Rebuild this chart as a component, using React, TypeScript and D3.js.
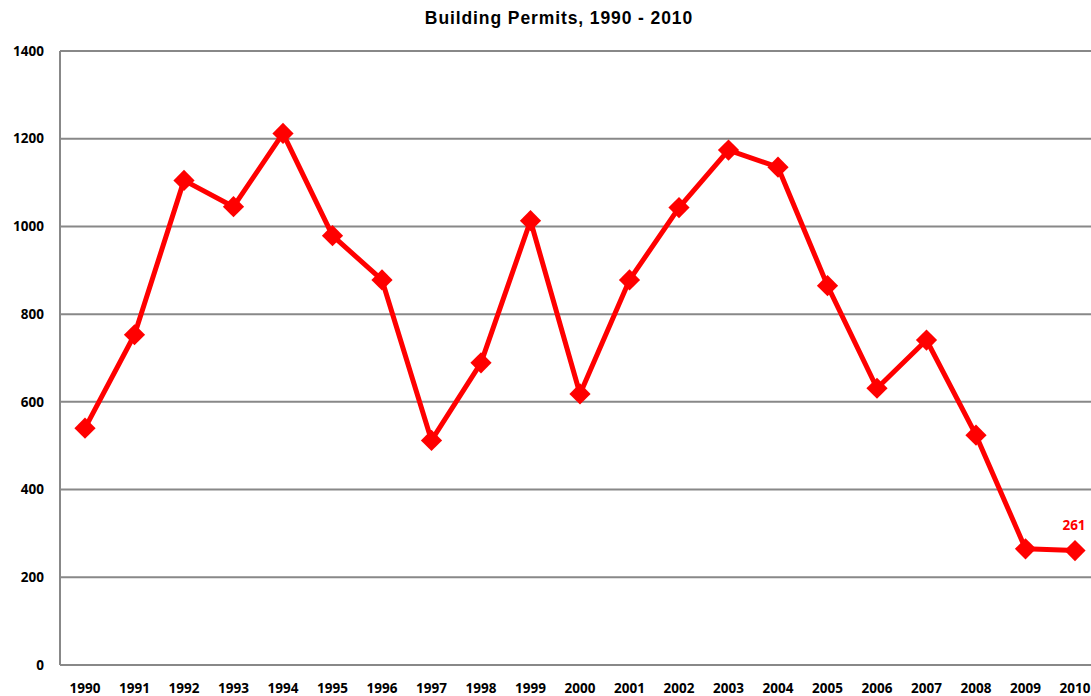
import * as React from 'react';
import * as d3 from 'd3';

const years = ['1990', '1991', '1992', '1993', '1994', '1995', '1996', '1997', '1998', '1999', '2000',
  '2001', '2002', '2003', '2004', '2005', '2006', '2007', '2008', '2009', '2010'];
const permits = [540, 753, 1105, 1045, 1212, 979, 878, 512, 689, 1013, 618,
  878, 1043, 1174, 1135, 865, 631, 741, 524, 265, 261];
const yTicks = [0, 200, 400, 600, 800, 1000, 1200, 1400];

const W = 1091;
const H = 696;
const margin = { top: 51, right: 0, bottom: 31, left: 60 };

const App: React.FC = () => {
  const innerW = W - margin.left - margin.right;
  const innerH = H - margin.top - margin.bottom;

  const x = d3.scalePoint<string>()
    .domain(years)
    .range([25, 1015]);

  const y = d3.scaleLinear()
    .domain([0, 1400])
    .range([innerH, 0]);

  const line = d3.line<number>()
    .x((_, i) => x(years[i])!)
    .y(d => y(d));

  const last = permits.length - 1;
  const tickFont = '"Open Sans", sans-serif';

  return (
    <svg width={W} height={H} style={{ position: 'absolute', left: 0, top: 0, background: 'white' }}>
      <text x={559} y={24} textAnchor="middle" fontFamily='"Liberation Sans", Arial, sans-serif'
        fontWeight="bold" fontSize={17.5} letterSpacing={0.9} fill="#000">Building Permits, 1990 - 2010</text>
      <g transform={`translate(${margin.left},${margin.top})`}>
        {yTicks.map(t => (
          <g key={t}>
            <line x1={0} x2={innerW} y1={y(t)} y2={y(t)} stroke="#888" strokeWidth={2} />
            <text x={-16} y={y(t)} dy="0.35em" textAnchor="end" fontFamily={tickFont}
              fontWeight="bold" fontSize={13.5} fill="#000">{t}</text>
          </g>
        ))}
        <line x1={0} x2={0} y1={0} y2={innerH} stroke="#888" strokeWidth={2} />
        {years.map(yr => (
          <text key={yr} x={x(yr)!} y={innerH + 23} dy="0.35em" textAnchor="middle" fontFamily={tickFont}
            fontWeight="bold" fontSize={13.5} fill="#000">{yr}</text>
        ))}
        <path d={line(permits) || ''} fill="none" stroke="#ff0000" strokeWidth={5} strokeLinejoin="round" />
        {permits.map((v, i) => (
          <rect key={i} x={-7.5} y={-7.5} width={15} height={15} fill="#ff0000"
            transform={`translate(${x(years[i])},${y(v)}) rotate(45)`} />
        ))}
        <text x={x(years[last])! - 1} y={y(permits[last]) - 25} dy="0.35em" textAnchor="middle"
          fontFamily={tickFont} fontWeight="bold" fontSize={13.5} fill="#ff0000">{permits[last]}</text>
      </g>
    </svg>
  );
};

export default App;
